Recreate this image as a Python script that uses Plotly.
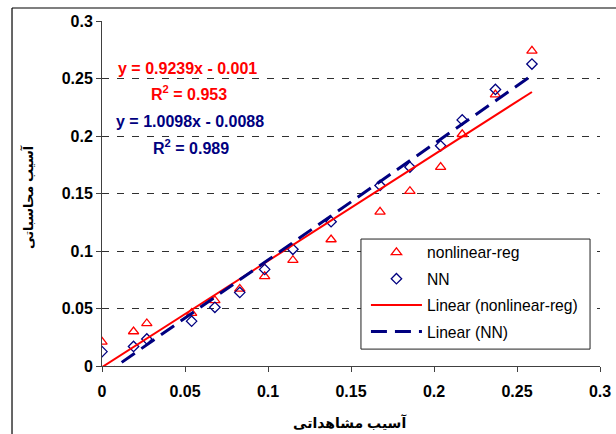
import plotly.graph_objects as go
import numpy as np

# Observed damage (x) values
x_obs = [0.0, 0.019, 0.027, 0.054, 0.068, 0.083, 0.098, 0.115, 0.138, 0.1675, 0.1855, 0.204, 0.217, 0.237, 0.259]
# nonlinear-reg computed damage
y_nlr = [0.021, 0.030, 0.037, 0.046, 0.057, 0.067, 0.078, 0.092, 0.110, 0.134, 0.152, 0.173, 0.2015, 0.236, 0.274]
# NN computed damage
y_nn = [0.0125, 0.017, 0.0235, 0.039, 0.051, 0.064, 0.084, 0.1015, 0.1255, 0.157, 0.173, 0.1915, 0.214, 0.2405, 0.2626]

# Trendline coefficients (slope, intercept)
fit_nlr = (0.9239, -0.001)
fit_nn = (1.0098, -0.0088)
r2_nlr = 0.953
r2_nn = 0.989

x_title = "آسیب مشاهداتی"
y_title = "آسیب محاسباتی"

RED = "#FF0000"
NAVY = "#000080"
FONT = "Arial, Liberation Sans, DejaVu Sans, sans-serif"

xl = np.array([min(x_obs), max(x_obs)])

fig = go.Figure()
fig.add_trace(go.Scatter(x=x_obs, y=y_nlr, mode="markers", name="nonlinear-reg",
                         legendgroup="a",
                         marker=dict(symbol="triangle-up-open", size=9, color=RED, line=dict(width=1.3))))
fig.add_trace(go.Scatter(x=x_obs, y=y_nn, mode="markers", name="NN",
                         legendgroup="b",
                         marker=dict(symbol="diamond-open", size=8, color=NAVY, line=dict(width=1.3))))
fig.add_trace(go.Scatter(x=xl, y=fit_nlr[0] * xl + fit_nlr[1], mode="lines",
                         name="Linear (nonlinear-reg)", legendgroup="c",
                         line=dict(color=RED, width=2)))
fig.add_trace(go.Scatter(x=xl, y=fit_nn[0] * xl + fit_nn[1], mode="lines",
                         name="Linear (NN)", legendgroup="d",
                         line=dict(color=NAVY, width=3, dash="16px,8px")))

ann_font = dict(family=FONT, size=16)
fig.add_annotation(x=0.0515, y=0.2585, xref="x", yref="y", showarrow=False,
                   text="<b>y = %.4fx - %.3f</b>" % (fit_nlr[0], -fit_nlr[1]),
                   font=dict(ann_font, color=RED))
fig.add_annotation(x=0.0525, y=0.2375, xref="x", yref="y", showarrow=False,
                   text="<b>R<sup>2</sup> = %.3f</b>" % r2_nlr,
                   font=dict(ann_font, color=RED))
fig.add_annotation(x=0.0530, y=0.2122, xref="x", yref="y", showarrow=False,
                   text="<b>y = %.4fx - %.4f</b>" % (fit_nn[0], -fit_nn[1]),
                   font=dict(ann_font, color=NAVY))
fig.add_annotation(x=0.0535, y=0.1905, xref="x", yref="y", showarrow=False,
                   text="<b>R<sup>2</sup> = %.3f</b>" % r2_nn,
                   font=dict(ann_font, color=NAVY))

# axis titles
fig.add_annotation(x=-0.1486, y=0.49, xref="paper", yref="paper", showarrow=False,
                   xanchor="center", yanchor="middle",
                   textangle=-90, text="<b>%s</b>" % y_title,
                   font=dict(family=FONT, size=13, color="black"))
fig.add_annotation(x=0.498, y=-0.165, xref="paper", yref="paper", showarrow=False,
                   xanchor="center", yanchor="middle",
                   text="<b>%s</b>" % x_title,
                   font=dict(family=FONT, size=14, color="black"))

# outer chart border (left and top edges visible in the frame)
fig.add_shape(type="line", xref="paper", yref="paper",
              x0=-0.1807, x1=-0.1807, y0=-0.2, y1=1.0377,
              line=dict(color="black", width=1.2))
fig.add_shape(type="line", xref="paper", yref="paper",
              x0=-0.1807, x1=1.04, y0=1.0377, y1=1.0377,
              line=dict(color="black", width=1.2))
# legend box
fig.add_shape(type="rect", xref="paper", yref="paper",
              x0=0.520, x1=0.980, y0=0.049, y1=0.368,
              fillcolor="white", line=dict(color="#202020", width=1), layer="above")

fig.update_layout(
    width=616, height=434,
    margin=dict(l=102, r=16, t=21, b=68, autoexpand=False),
    paper_bgcolor="white", plot_bgcolor="white",
    font=dict(family=FONT, color="black"),
    showlegend=True,
    legend=dict(x=0.53, y=0.378, xanchor="left", yanchor="top",
                borderwidth=0, bgcolor="rgba(0,0,0,0)",
                font=dict(family=FONT, size=15.7, color="black"),
                tracegroupgap=3, traceorder="grouped", itemwidth=51),
    xaxis=dict(range=[0, 0.3], dtick=0.05, tick0=0, showgrid=False, zeroline=False,
               automargin=False,
               showline=True, linecolor="#404040", linewidth=1,
               ticks="outside", ticklen=5, tickcolor="#404040", ticklabelstandoff=6,
               tickfont=dict(family=FONT, size=16, weight="bold")),
    yaxis=dict(range=[0, 0.3], dtick=0.05, tick0=0, zeroline=False,
               automargin=False,
               showgrid=True, gridcolor="#303030", gridwidth=1, griddash="7px,8px",
               showline=True, linecolor="#404040", linewidth=1,
               ticks="outside", ticklen=5, tickcolor="#404040",
               tickfont=dict(family=FONT, size=16, weight="bold")),
)

fig.write_html("out.html", config={"displayModeBar": False},
               post_script="document.body.style.margin='0';document.body.style.overflow='hidden';")
